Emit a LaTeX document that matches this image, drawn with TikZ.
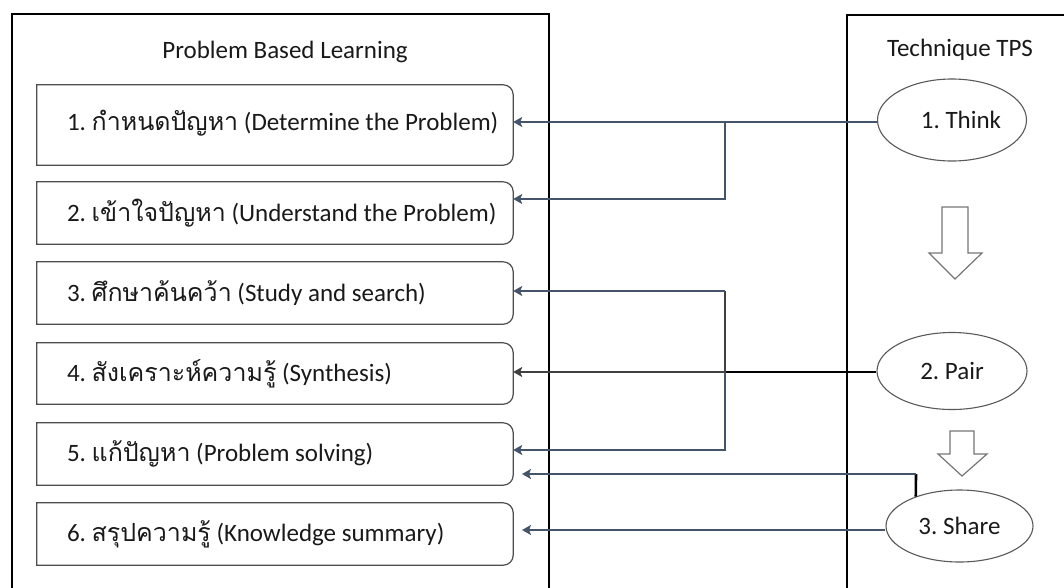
\documentclass[tikz,border=0pt]{standalone}
\usepackage{fontspec}
\setmainfont{Carlito}
\newfontfamily\thai[Script=Thai]{Loma}
\usetikzlibrary{shapes.geometric,arrows.meta}
\definecolor{linkblue}{HTML}{44546A}
\definecolor{linkdark}{HTML}{404040}
\definecolor{edgegray}{HTML}{4D4D4D}
\definecolor{ovalgray}{HTML}{595959}
\definecolor{hollowgray}{HTML}{767676}
\newcommand{\thw}[1]{{\thai #1}}
\frenchspacing
\begin{document}
\begin{tikzpicture}[x=1pt,y=1pt,
  txt/.style={font=\fontsize{25}{29}\selectfont, text=black!90},
  stepbox/.style={rectangle, inner sep=0pt, minimum width=476pt, minimum height=62pt},
  steptext/.style={txt, anchor=west, inner sep=0pt},
  oval/.style={txt, ellipse, draw=ovalgray, line width=1.1pt, inner sep=0pt},
  frame/.style={draw=black, line width=2.8pt},
  tip/.style={-{Stealth[length=9pt,width=10pt,inset=2pt]}},
  conn/.style={draw=linkblue, line width=2.6pt},
  connd/.style={draw=linkdark, line width=2.6pt},
  connk/.style={draw=black, line width=2.6pt},
  hollow/.style={draw=hollowgray, line width=1.2pt, fill=white, line join=miter}]
\useasboundingbox (0,0) rectangle (1064,-587);
\clip (0,0) rectangle (1064,-587);

% outer frames, open at the bottom
\draw[frame] (12,-600) -- (12,-14) -- (549,-14) -- (549,-600);
\draw[frame] (847,-600) -- (847,-15) -- (1080,-15) -- (1080,-600);

% column headings
\node[txt] (pbl) at (285,-52) {Problem Based Learning};
\node[txt] (tps) at (960,-50) {Technique TPS};

% learning steps
\node[stepbox, minimum height=80pt] (b1) at (275,-125) {};
\node[stepbox] (b2) at (275,-213) {};
\node[stepbox] (b3) at (275,-293) {};
\node[stepbox, minimum height=61pt] (b4) at (275,-373.5) {};
\node[stepbox] (b5) at (275,-454) {};
\node[stepbox] (b6) at (275,-534) {};

\node[steptext] (t1) at ([xshift=30pt,yshift=2pt]b1.west) {1. \thw{กำหนดปัญหา} (Determine the Problem)};
\node[steptext] (t2) at ([xshift=30pt]b2.west) {2. \thw{เข้าใจปัญหา} (Understand the Problem)};
\node[steptext] (t3) at ([xshift=30pt]b3.west) {3. \thw{ศึกษาค้นคว้า} (Study and search)};
\node[steptext] (t4) at ([xshift=30pt]b4.west) {4. \thw{สังเคราะห์ความรู้} (Synthesis)};
\node[steptext] (t5) at ([xshift=30pt]b5.west) {5. \thw{แก้ปัญหา} (Problem solving)};
\node[steptext] (t6) at ([xshift=30pt]b6.west) {6. \thw{สรุปความรู้} (Knowledge summary)};

% step outlines: square on the left, rounded on the right
\foreach \b in {b1,b2,b3,b4,b5,b6}{
  \draw[edgegray, line width=1.2pt]
    (\b.north west) -- ([xshift=-10pt]\b.north east)
    arc[start angle=90, end angle=0, radius=10pt]
    -- ([yshift=10pt]\b.south east)
    arc[start angle=0, end angle=-90, radius=10pt]
    -- (\b.south west) -- cycle;
}

% think-pair-share stages
\node[oval, minimum width=149pt, minimum height=82pt] (think) at (952,-120) {\hspace*{18pt}1. Think};
\node[oval, minimum width=150pt, minimum height=77pt] (pair) at (952,-371) {2. Pair};
\node[oval, minimum width=147pt, minimum height=72pt] (share) at (959.5,-526) {3. Share};

% hollow arrows between stages
\draw[hollow] (942,-207) -- (968,-207) -- (968,-253) -- (982,-253) -- (955,-279)
  -- (929,-253) -- (942,-253) -- cycle;
\draw[hollow] (950,-431) -- (974,-431) -- (974,-454) -- (987,-454) -- (962,-476)
  -- (938,-454) -- (950,-454) -- cycle;

% junction points
\coordinate (ja) at (725,-122);
\coordinate (jb) at (725,-199);
\coordinate (jc) at (725,-372);
\coordinate (jd) at (725,-291);
\coordinate (je) at (725,-450);
\coordinate (jf) at (916,-474);
\coordinate (k5) at (522,-474);
\coordinate (k6) at (522,-530);

% Think -> steps 1 and 2
\draw[conn, tip] ([yshift=-2pt]think.west) -- (b1.east |- ja);
\draw[conn, tip] (ja) -- (jb) -- (b2.east |- jb);

% Pair -> steps 3, 4 and 5
\draw[connk] ([yshift=-1pt]pair.west) -- (jc);
\draw[connd] (jc) -- (jd);
\draw[connd, tip] (jc) -- (b4.east |- jc);
\draw[conn, tip] (jd) -- (b3.east |- jd);
\draw[conn, tip] (jc) -- (je) -- (b5.east |- je);

% Share -> steps 5 and 6
\draw[connk] (share.146) -- (jf);
\draw[conn, tip] (jf) -- (k5);
\draw[conn, tip] ([yshift=-4pt]share.west) -- (k6);
\end{tikzpicture}
\end{document}
